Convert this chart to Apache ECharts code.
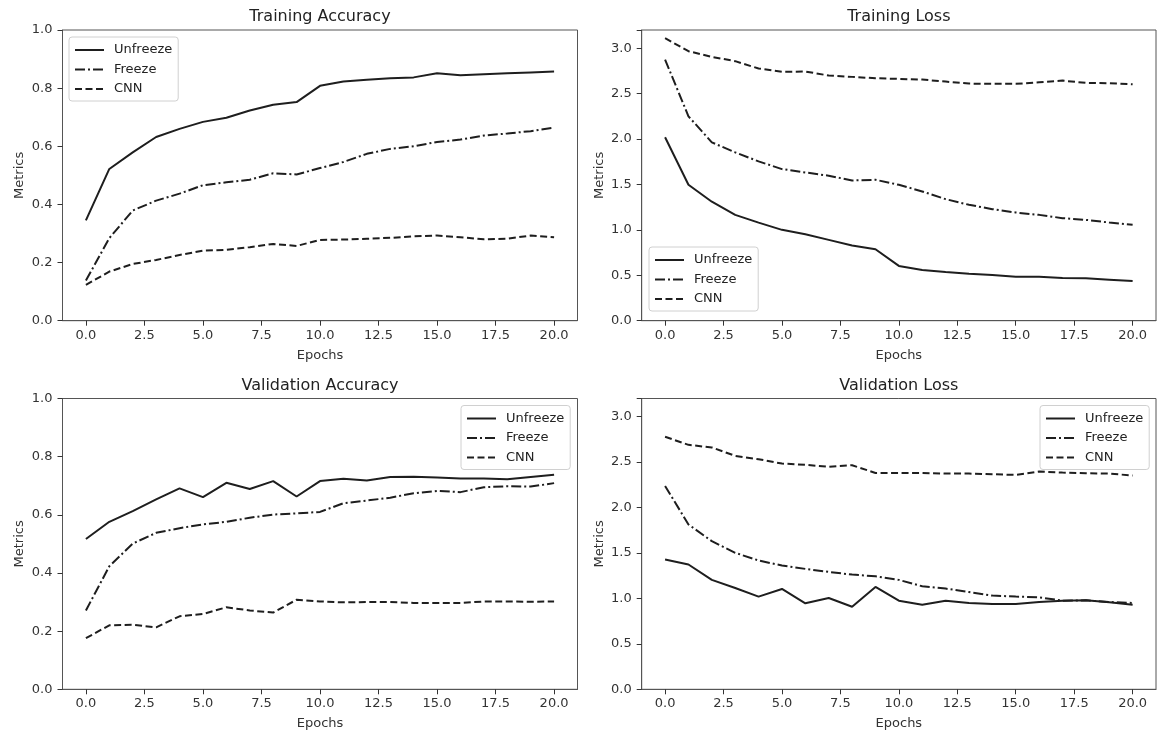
<!DOCTYPE html>
<html>
<head>
<meta charset="utf-8">
<script src="https://cdn.jsdelivr.net/npm/echarts@6/dist/echarts.min.js"></script>
<style>
  html, body { margin: 0; padding: 0; background: #fff; }
  #chart { width: 1161px; height: 736px; }
</style>
</head>
<body>
<div id="chart"></div>
<script>
const epochs = [0,1,2,3,4,5,6,7,8,9,10,11,12,13,14,15,16,17,18,19,20];

const trainAccUnfreeze = [0.345,0.522,0.579,0.632,0.660,0.684,0.698,0.723,0.743,0.752,0.808,0.823,0.829,0.834,0.837,0.851,0.844,0.848,0.851,0.854,0.857];
const trainAccFreeze   = [0.138,0.284,0.379,0.413,0.437,0.466,0.476,0.485,0.507,0.503,0.525,0.546,0.574,0.591,0.600,0.615,0.623,0.637,0.644,0.652,0.664];
const trainAccCnn      = [0.123,0.169,0.195,0.209,0.226,0.241,0.244,0.253,0.264,0.257,0.278,0.279,0.282,0.285,0.290,0.293,0.287,0.280,0.282,0.293,0.287];

const trainLossUnfreeze = [2.02,1.496,1.31,1.165,1.08,1.0,0.952,0.89,0.827,0.787,0.603,0.559,0.537,0.518,0.504,0.485,0.485,0.47,0.467,0.452,0.437];
const trainLossFreeze   = [2.875,2.25,1.963,1.853,1.754,1.669,1.632,1.596,1.544,1.551,1.496,1.423,1.338,1.276,1.228,1.191,1.165,1.129,1.11,1.081,1.055];
const trainLossCnn      = [3.11,2.967,2.904,2.857,2.776,2.739,2.743,2.699,2.684,2.669,2.662,2.654,2.632,2.61,2.607,2.607,2.625,2.643,2.618,2.614,2.603];

const valAccUnfreeze = [0.517,0.576,0.613,0.653,0.691,0.661,0.710,0.689,0.716,0.663,0.716,0.724,0.718,0.730,0.731,0.728,0.725,0.725,0.722,0.730,0.738];
const valAccFreeze   = [0.271,0.423,0.501,0.538,0.554,0.567,0.576,0.590,0.601,0.605,0.610,0.640,0.649,0.659,0.674,0.682,0.678,0.695,0.698,0.697,0.709];
const valAccCnn      = [0.176,0.220,0.222,0.213,0.251,0.259,0.282,0.271,0.264,0.308,0.302,0.299,0.300,0.300,0.297,0.297,0.297,0.302,0.302,0.301,0.302];

const valLossUnfreeze = [1.428,1.373,1.204,1.115,1.02,1.104,0.946,1.005,0.909,1.126,0.975,0.931,0.975,0.95,0.939,0.939,0.961,0.975,0.979,0.957,0.931];
const valLossFreeze   = [2.238,1.814,1.63,1.502,1.417,1.362,1.325,1.292,1.262,1.244,1.204,1.134,1.108,1.071,1.031,1.02,1.012,0.975,0.979,0.961,0.95];
const valLossCnn      = [2.779,2.69,2.661,2.569,2.532,2.484,2.47,2.448,2.466,2.381,2.381,2.381,2.374,2.374,2.367,2.359,2.396,2.385,2.378,2.374,2.352];

const xTicks = [0,2.5,5,7.5,10,12.5,15,17.5,20];
const accTicks = [0,0.2,0.4,0.6,0.8,1.0];
const lossTicks = [0,0.5,1.0,1.5,2.0,2.5,3.0];

const seriesNames = ['Unfreeze', 'Freeze', 'CNN'];
const panelTitles = ['Training Accuracy', 'Training Loss', 'Validation Accuracy', 'Validation Loss'];

const font = 'DejaVu Sans';
const ink = '#1e1e1e';
const frame = '#555';
const dashTypes = ['solid', [10, 3, 2, 3], [7, 3.5]];

const grids = [
  { left: 62.5,  top: 30,    width: 515,   height: 290.7 },
  { left: 641.7, top: 30,    width: 514.3, height: 290.7 },
  { left: 62.5,  top: 398.5, width: 515,   height: 290.8 },
  { left: 641.7, top: 398.5, width: 514.3, height: 290.8 }
];

const panels = [
  { data: [trainAccUnfreeze, trainAccFreeze, trainAccCnn], max: 1, ticks: accTicks },
  { data: [trainLossUnfreeze, trainLossFreeze, trainLossCnn], max: 3.2, ticks: lossTicks },
  { data: [valAccUnfreeze, valAccFreeze, valAccCnn], max: 1, ticks: accTicks },
  { data: [valLossUnfreeze, valLossFreeze, valLossCnn], max: 3.2, ticks: lossTicks }
];

const legendPos = [
  { left: 69, top: 37 },
  { left: 649, top: 247 },
  { left: 461, top: 405.5 },
  { left: 1040, top: 405.5 }
];

const axisText = { color: '#333', fontFamily: font, fontSize: 13 };
const tickStyle = { color: '#333', width: 1 };

const chart = echarts.init(document.getElementById('chart'));

chart.setOption({
  backgroundColor: '#fff',
  animation: false,
  title: grids.map((g, i) => ({
    text: panelTitles[i],
    left: g.left + g.width / 2,
    top: g.top - 21,
    padding: 0,
    textAlign: 'center',
    textStyle: { color: '#222', fontFamily: font, fontSize: 16, fontWeight: 'normal' }
  })),
  legend: legendPos.map(p => ({
    data: seriesNames,
    orient: 'vertical',
    left: p.left,
    top: p.top,
    itemWidth: 29,
    itemHeight: 14,
    itemGap: 6.5,
    padding: [6.5, 6, 5.5, 5],
    backgroundColor: 'rgba(255,255,255,0.85)',
    borderColor: '#d0d0d0',
    borderWidth: 1,
    borderRadius: 3,
    selectedMode: false,
    itemStyle: { color: 'rgba(0,0,0,0)', borderColor: 'rgba(0,0,0,0)', borderWidth: 0 },
    textStyle: { color: '#222', fontFamily: font, fontSize: 13, padding: [0, 0, 0, 5] }
  })),
  grid: grids.map(g => Object.assign({
    show: true,
    borderColor: frame,
    borderWidth: 1,
    backgroundColor: 'transparent'
  }, g)),
  xAxis: grids.map((g, i) => ({
    type: 'value',
    gridIndex: i,
    position: 'bottom',
    min: -1,
    max: 21,
    name: 'Epochs',
    nameLocation: 'middle',
    nameGap: 28,
    nameTextStyle: axisText,
    axisLine: { show: true, onZero: false, lineStyle: { color: frame, width: 1 } },
    axisTick: { show: true, inside: false, length: 5, customValues: xTicks, lineStyle: tickStyle },
    axisLabel: { customValues: xTicks, formatter: v => v.toFixed(1), margin: 8, ...axisText },
    splitLine: { show: false }
  })),
  // y ticks use interval (min 0 is a multiple of it), so no custom tick list is needed
  yAxis: panels.map((p, i) => ({
    type: 'value',
    gridIndex: i,
    position: 'left',
    min: 0,
    max: p.max,
    interval: p.ticks[1],
    name: 'Metrics',
    nameLocation: 'middle',
    nameGap: 36,
    nameTextStyle: axisText,
    axisLine: { show: true, onZero: false, lineStyle: { color: frame, width: 1 } },
    axisTick: { show: true, inside: false, length: 5, lineStyle: tickStyle },
    axisLabel: { customValues: p.ticks, formatter: v => v.toFixed(1), margin: 10, ...axisText },
    splitLine: { show: false }
  })),
  series: panels.flatMap((p, i) => p.data.map((vals, k) => ({
    name: seriesNames[k],
    type: 'line',
    xAxisIndex: i,
    yAxisIndex: i,
    symbol: 'none',
    showSymbol: false,
    data: epochs.map((e, j) => [e, vals[j]]),
    itemStyle: { color: ink },
    lineStyle: { color: ink, width: 2, type: dashTypes[k] }
  })))
});
</script>
</body>
</html>
